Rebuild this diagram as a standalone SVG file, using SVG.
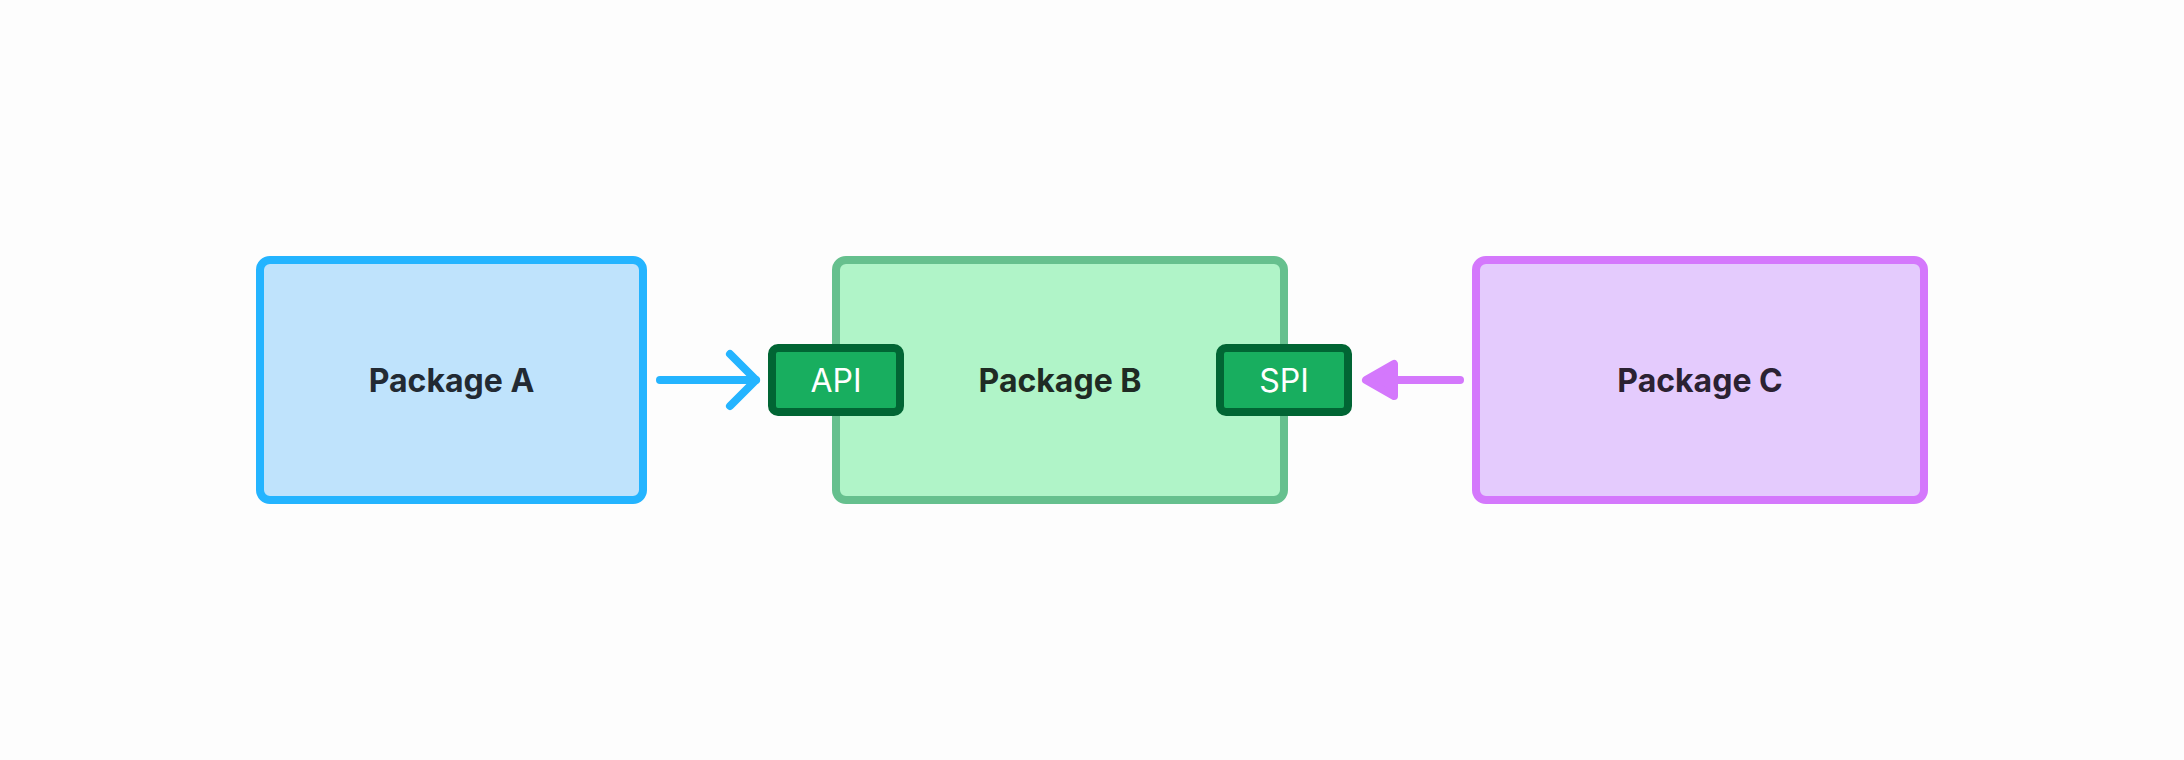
<svg xmlns="http://www.w3.org/2000/svg" width="2184" height="760" viewBox="0 0 2184 760">
  <style>
    .pkg { stroke-width: 8; }
    .port { fill: #18ae5f; stroke: #016534; stroke-width: 8; }
    .title { font-family: Inter, "Liberation Sans", sans-serif; font-weight: 700; font-size: 32px; text-anchor: middle; dominant-baseline: central; }
    .portlabel { font-family: Inter, "Liberation Sans", sans-serif; font-weight: 400; font-size: 32px; fill: #ffffff; text-anchor: middle; dominant-baseline: central; }
  </style>
  <rect width="2184" height="760" fill="#fdfdfd"/>

  <g id="package-a">
    <rect class="pkg" x="260" y="260" width="383" height="240" rx="10" fill="#bfe3fc" stroke="#24b4ff"/>
    <text class="title" x="451.5" y="380" fill="#222a33">Package A</text>
  </g>

  <g id="package-b">
    <rect class="pkg" x="836" y="260" width="448" height="240" rx="10" fill="#b0f4c8" stroke="#66c08e"/>
    <text class="title" x="1060" y="380" fill="#1f2b24">Package B</text>
  </g>

  <g id="package-c">
    <rect class="pkg" x="1476" y="260" width="448" height="240" rx="10" fill="#e4cbfd" stroke="#d478fc"/>
    <text class="title" x="1700" y="380" fill="#2b2232">Package C</text>
  </g>

  <g id="port-api">
    <rect class="port" x="772" y="348" width="128" height="64" rx="6"/>
    <text class="portlabel" x="836" y="380">API</text>
  </g>

  <g id="port-spi">
    <rect class="port" x="1220" y="348" width="128" height="64" rx="6"/>
    <text class="portlabel" x="1284" y="380">SPI</text>
  </g>

  <g id="connectors" fill="none" stroke-width="8" stroke-linecap="round" stroke-linejoin="round">
    <!-- A uses the API of B -->
    <g stroke="#24b4ff">
      <line x1="660" y1="380" x2="756" y2="380"/>
      <polyline points="730,354 756,380 730,406"/>
    </g>
    <!-- C implements the SPI of B -->
    <g stroke="#d478fc">
      <line x1="1460" y1="380" x2="1394" y2="380"/>
      <polygon points="1366,380 1394,364 1394,396" fill="#d478fc"/>
    </g>
  </g>
</svg>
